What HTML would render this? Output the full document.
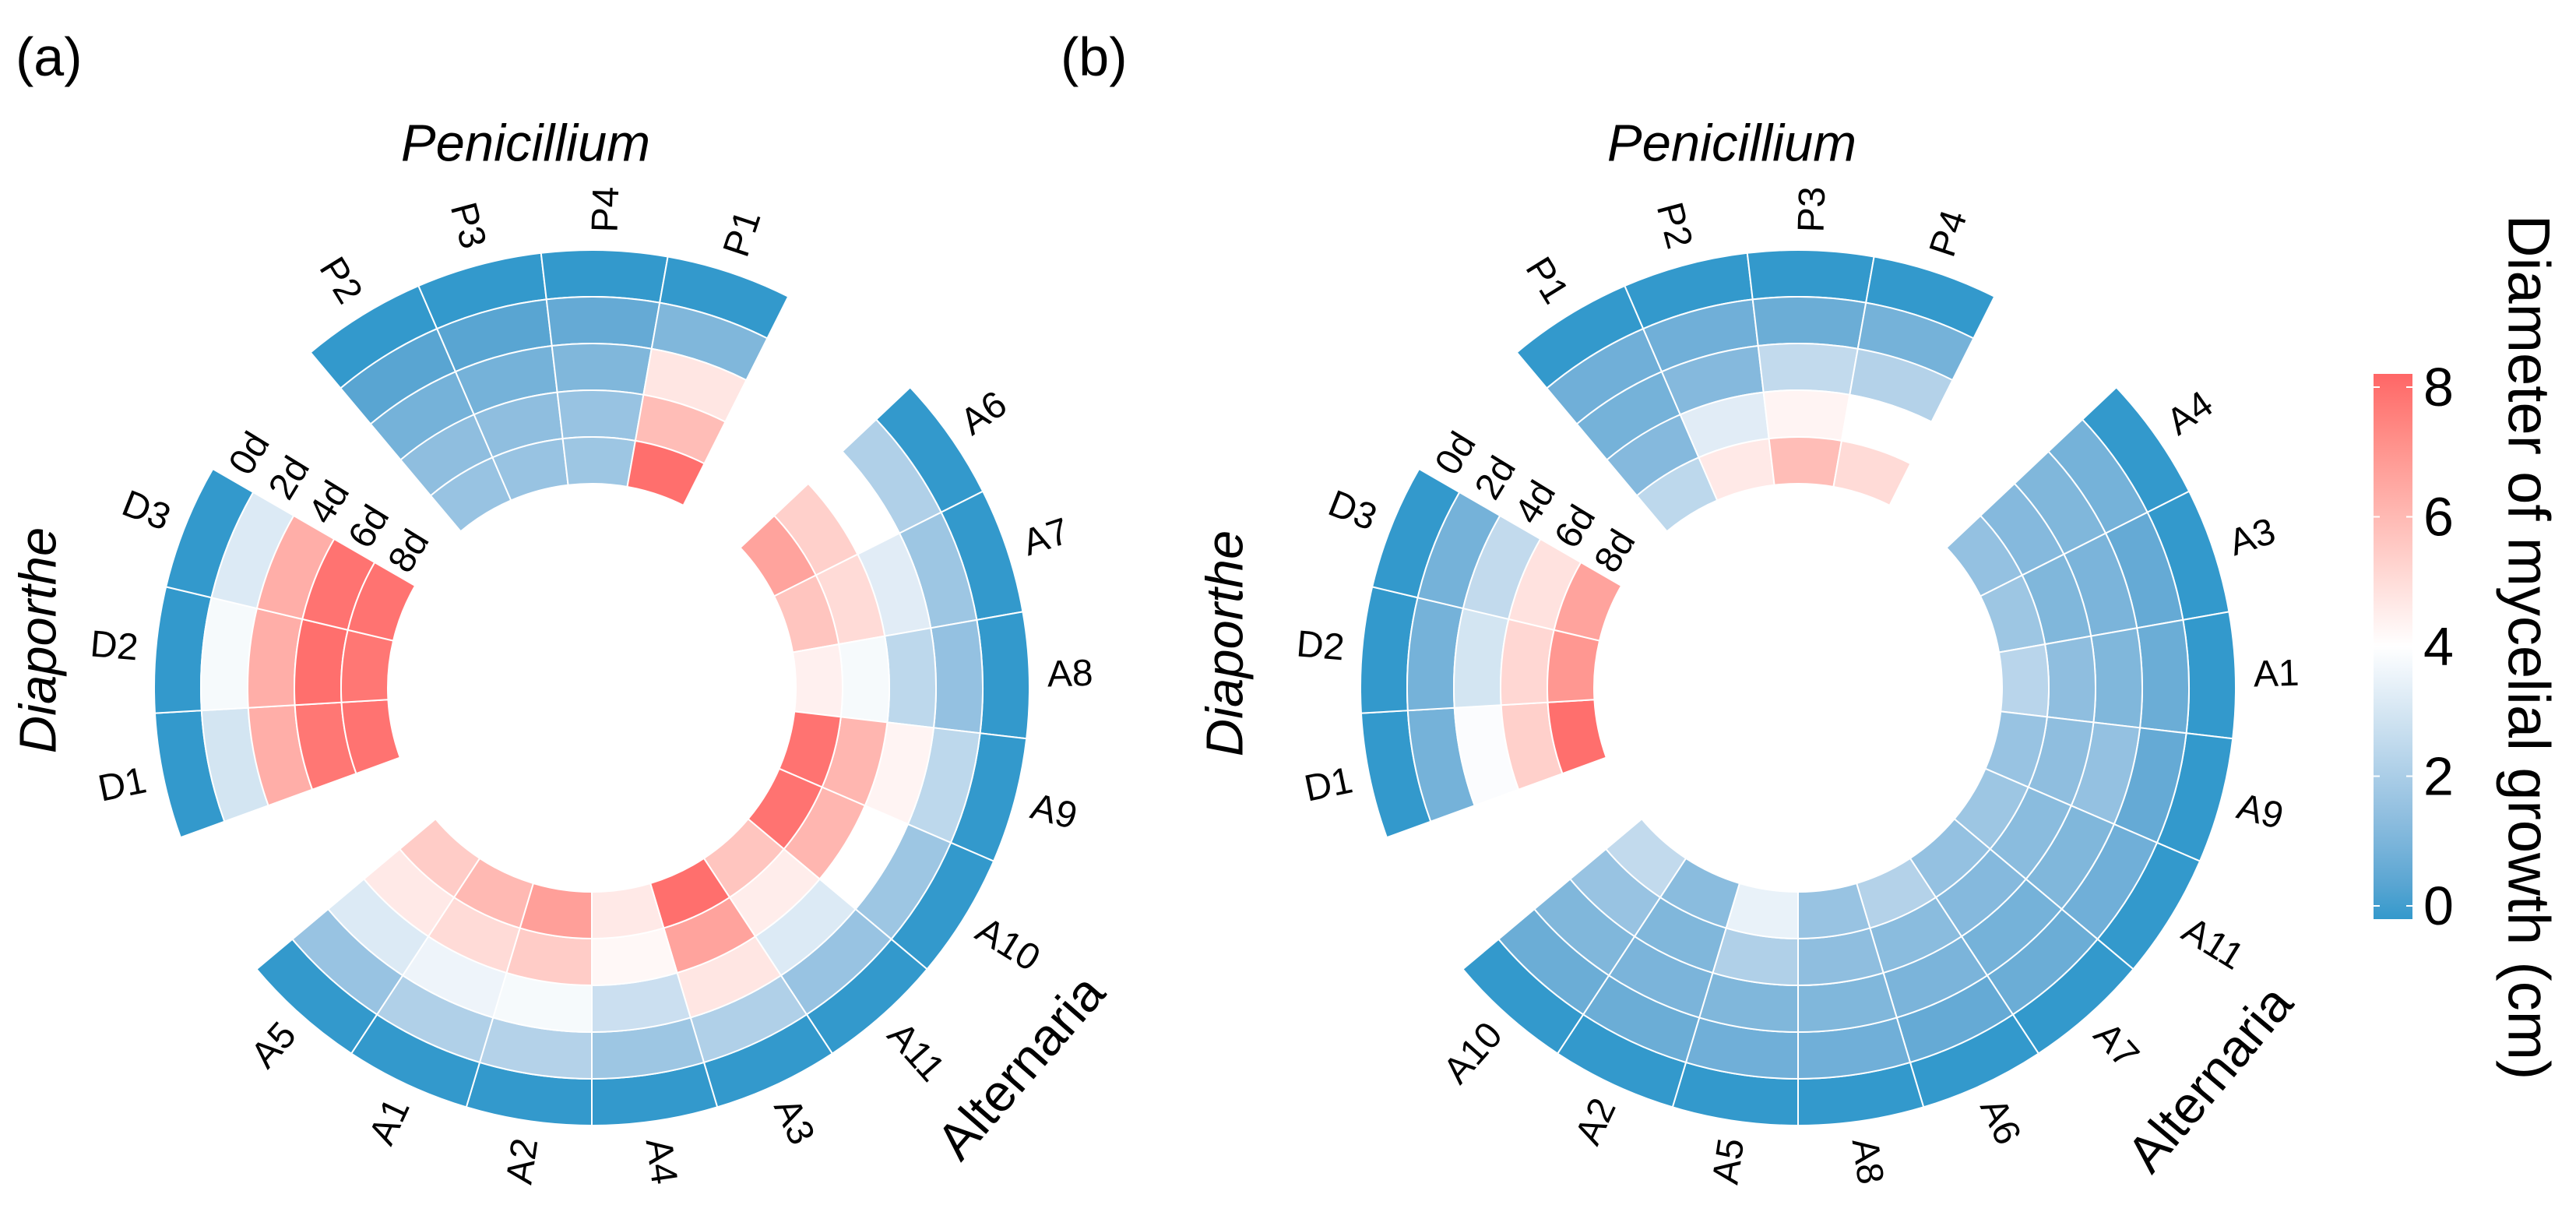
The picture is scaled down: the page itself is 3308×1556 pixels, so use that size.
<!DOCTYPE html>
<html><head><meta charset="utf-8"><title>Mycelial growth circular heatmaps</title>
<style>
html,body{margin:0;padding:0;background:#fff;}
svg{display:block;font-family:"Liberation Sans",Arial,sans-serif;}
</style></head>
<body>
<svg id="chart" width="3308" height="1556" viewBox="0 0 3308 1556" xmlns="http://www.w3.org/2000/svg">
  <rect width="3308" height="1556" fill="#fff"/>
  <text x="20" y="97" font-size="70" fill="#000">(a)</text>
  <text x="1362" y="97" font-size="70" fill="#000">(b)</text>
  <g id="panelA"></g>
  <g id="panelB"></g>
  <g id="legend">
    <defs>
      <linearGradient id="lg" x1="0" y1="1" x2="0" y2="0"></linearGradient>
    </defs>
  </g>
  <text x="0" y="0" font-size="76" fill="#000" text-anchor="middle" dominant-baseline="central" transform="translate(3247,831) rotate(90)">Diameter of mycelial growth (cm)</text>
</svg>
<script>
// ---------- data ----------
const days = ["0d","2d","4d","6d","8d"];
const legendTicks = [0,2,4,6,8];

// Panel (a): sector order clockwise
const aSectors = ["P2","P3","P4","P1","A6","A7","A8","A9","A10","A11","A3","A4","A2","A1","A5","D1","D2","D3"];
const aD0 = [0,0,0,0, 0,0,0,0,0,0,0,0,0,0,0, 0,0,0];
const aD2 = [0.5,0.5,0.7,1.2, 2.2,1.8,1.6,2.5,1.8,1.7,2.2,1.8,2.3,2.2,1.7, 3.0,3.8,3.2];
const aD4 = [1.0,1.0,1.2,4.7, 4.0,3.3,2.5,4.3,4.0,3.2,4.7,2.8,3.8,3.6,3.2, 6.2,6.2,6.2];
const aD6 = [1.5,1.5,1.7,5.8, 5.3,5.0,3.8,6.0,6.0,4.5,6.5,4.2,5.4,5.0,4.6, 7.6,7.8,7.7];
const aD8 = [1.7,1.7,1.8,7.8, 6.5,5.6,4.4,7.7,7.7,5.6,7.8,4.6,6.6,5.9,5.4, 7.7,7.6,7.7];

// Panel (b)
const bSectors = ["P1","P2","P3","P4","A4","A3","A1","A9","A11","A7","A6","A8","A5","A2","A10","D1","D2","D3"];
const bD0 = [0,0,0,0, 0,0,0,0,0,0,0,0,0,0,0, 0,0,0];
const bD2 = [0.9,0.9,0.8,1.0, 1.0,0.7,0.8,0.7,0.9,0.8,0.7,0.9,0.9,0.8,0.8, 1.0,1.0,1.0];
const bD4 = [1.0,1.3,2.6,2.3, 1.2,1.1,1.2,1.6,1.2,1.0,1.1,1.2,1.2,1.1,1.2, 3.9,3.0,2.6];
const bD6 = [1.3,3.3,4.3,4.0, 1.3,1.2,1.5,1.5,1.4,1.3,1.4,1.5,2.2,1.2,1.7, 5.3,5.1,4.8];
const bD8 = [2.5,4.6,5.8,5.0, 1.6,1.8,2.4,1.7,1.8,1.6,2.3,1.7,3.5,1.4,2.6, 7.8,6.8,6.5];

// ---------- geometry ----------
const NS = "http://www.w3.org/2000/svg";
const R_OUT = 562, RING = 60, LABEL_R = 585;
const SW = 300/18;
const GROUP_START = {P:320, A:46.667, D:250};

// LAB colour interpolation (like circlize colorRamp2)
function srgb2lin(c){c/=255;return c<=0.04045?c/12.92:Math.pow((c+0.055)/1.055,2.4);}
function lin2srgb(c){c=c<=0.0031308?12.92*c:1.055*Math.pow(c,1/2.4)-0.055;return Math.max(0,Math.min(255,Math.round(c*255)));}
function rgb2lab(rgb){
  const [r,g,b]=rgb.map(srgb2lin);
  let x=(0.4124*r+0.3576*g+0.1805*b)/0.95047, y=(0.2126*r+0.7152*g+0.0722*b), z=(0.0193*r+0.1192*g+0.9505*b)/1.08883;
  const f=t=>t>0.008856?Math.cbrt(t):7.787*t+16/116;
  const fx=f(x),fy=f(y),fz=f(z);
  return [116*fy-16,500*(fx-fy),200*(fy-fz)];
}
function lab2rgb(lab){
  const fy=(lab[0]+16)/116, fx=fy+lab[1]/500, fz=fy-lab[2]/200;
  const fi=t=>t*t*t>0.008856?t*t*t:(t-16/116)/7.787;
  const x=fi(fx)*0.95047,y=fi(fy),z=fi(fz)*1.08883;
  const r=3.2406*x-1.5372*y-0.4986*z, g=-0.9689*x+1.8758*y+0.0415*z, b=0.0557*x-0.2040*y+1.0570*z;
  return [lin2srgb(r),lin2srgb(g),lin2srgb(b)];
}
const LBLUE=rgb2lab([51,153,204]), LWHITE=rgb2lab([255,255,255]), LRED=rgb2lab([255,102,102]);
function colorOf(v){
  let a,b,t;
  if(v<=4){a=LBLUE;b=LWHITE;t=Math.max(0,v)/4;} else {a=LWHITE;b=LRED;t=Math.min(4,v-4)/4;}
  const c=lab2rgb(a.map((x,i)=>x+(b[i]-x)*t));
  return "rgb("+c.join(",")+")";
}
function pt(cx,cy,r,deg){const a=deg*Math.PI/180;return [cx+r*Math.sin(a), cy-r*Math.cos(a)];}
function cellPath(cx,cy,r1,r2,t1,t2){
  const p1=pt(cx,cy,r2,t1),p2=pt(cx,cy,r2,t2),p3=pt(cx,cy,r1,t2),p4=pt(cx,cy,r1,t1);
  return `M${p1[0]},${p1[1]} A${r2},${r2} 0 0 1 ${p2[0]},${p2[1]} L${p3[0]},${p3[1]} A${r1},${r1} 0 0 0 ${p4[0]},${p4[1]} Z`;
}
function sectorAngles(sectors){
  const counts={P:0,A:0,D:0};
  return sectors.map(s=>{const g=s[0];const t1=GROUP_START[g]+counts[g]*SW;counts[g]++;return [t1,t1+SW];});
}

function drawPanel(gid,cx,cy,sectors,dayVals,titles){
  const g=document.getElementById(gid);
  const angs=sectorAngles(sectors);
  sectors.forEach((s,i)=>{
    const [t1,t2]=angs[i];
    dayVals.forEach((vals,k)=>{
      const ro=R_OUT-k*RING, ri=ro-RING;
      const p=document.createElementNS(NS,"path");
      p.setAttribute("d",cellPath(cx,cy,ri,ro,t1,t2));
      p.setAttribute("fill",colorOf(vals[i]));
      p.setAttribute("stroke","#fff");
      p.setAttribute("stroke-width","2");
      
      
      g.appendChild(p);
    });
    const mid=(t1+t2)/2, m=((mid%360)+360)%360;
    const lp=pt(cx,cy,LABEL_R,mid);
    const t=document.createElementNS(NS,"text");
    t.textContent=s;
    t.setAttribute("font-size","48");
    t.setAttribute("dominant-baseline","central");
    if(m<180){t.setAttribute("text-anchor","start");t.setAttribute("transform",`translate(${lp[0]},${lp[1]}) rotate(${m-90})`);}
    else{t.setAttribute("text-anchor","end");t.setAttribute("transform",`translate(${lp[0]},${lp[1]}) rotate(${m+90})`);}
    
    
    g.appendChild(t);
  });
  days.forEach((d,k)=>{
    const r=R_OUT-k*RING-RING/2;
    const lp=pt(cx,cy,r,301.5);
    const t=document.createElementNS(NS,"text");
    t.textContent=d;
    t.setAttribute("font-size","48");
    t.setAttribute("dominant-baseline","central");
    t.setAttribute("text-anchor","start");
    t.setAttribute("transform",`translate(${lp[0]},${lp[1]}) rotate(301.5)`);
    
    
    g.appendChild(t);
  });
  titles.forEach(ti=>{
    const t=document.createElementNS(NS,"text");
    t.textContent=ti.text;
    t.setAttribute("font-size","67");
    t.setAttribute("text-anchor","middle");
    t.setAttribute("dominant-baseline","central");
    if(ti.italic) t.setAttribute("font-style","italic");
    t.setAttribute("transform",`translate(${ti.x},${ti.y}) rotate(${ti.rot})`);
    
    
    g.appendChild(t);
  });
}

drawPanel("panelA",760,883,aSectors,[aD0,aD2,aD4,aD6,aD8],[
  {text:"Penicillium",x:675,y:184,rot:0,italic:true},
  {text:"Diaporthe",x:49,y:822,rot:-90,italic:true},
  {text:"Alternaria",x:1311,y:1370,rot:-49,italic:false}
]);
drawPanel("panelB",2309,883,bSectors,[bD0,bD2,bD4,bD6,bD8],[
  {text:"Penicillium",x:2224,y:184,rot:0,italic:true},
  {text:"Diaporthe",x:1573,y:826,rot:-90,italic:true},
  {text:"Alternaria",x:2838,y:1385,rot:-50,italic:false}
]);

// ---------- legend ----------
(function(){
  const lg=document.getElementById("legend");
  const grad=document.getElementById("lg");
  for(let i=0;i<=16;i++){
    const s=document.createElementNS(NS,"stop");
    s.setAttribute("offset",i/16);
    s.setAttribute("stop-color",colorOf(i*0.5));
    grad.appendChild(s);
  }
  const x0=3048,w=50,yTop=480,yBot=1180;
  const y0=1163,y8=497;
  const yOf=v=>y0+(y8-y0)*(v/8);
  const bar=document.createElementNS(NS,"rect");
  bar.setAttribute("x",x0);bar.setAttribute("y",yTop);bar.setAttribute("width",w);bar.setAttribute("height",yBot-yTop);
  bar.setAttribute("fill","url(#lg)");
  
  
  lg.appendChild(bar);
  legendTicks.forEach(v=>{
    const y=yOf(v);
    [[x0,x0+8],[x0+w-8,x0+w]].forEach(([a,b])=>{
      const l=document.createElementNS(NS,"line");
      l.setAttribute("x1",a);l.setAttribute("x2",b);l.setAttribute("y1",y);l.setAttribute("y2",y);
      l.setAttribute("stroke","#fff");l.setAttribute("stroke-width","2");
      
      
      lg.appendChild(l);
    });
    const t=document.createElementNS(NS,"text");
    t.textContent=v;
    t.setAttribute("x",x0+w+14);t.setAttribute("y",y);
    t.setAttribute("font-size","70");t.setAttribute("dominant-baseline","central");
    
    
    lg.appendChild(t);
  });
})();
</script>
</body></html>
